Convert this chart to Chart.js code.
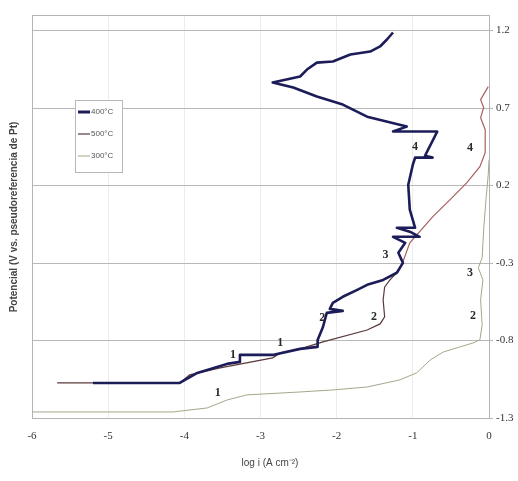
<!DOCTYPE html>
<html lang="es">
<head>
<meta charset="UTF-8" />
<title>Curvas de polarización</title>
<style>
  html, body { margin: 0; padding: 0; background: #ffffff; }
  canvas { display: block; }
</style>
</head>
<body>
<canvas id="polChart" width="518" height="481"></canvas>
<script src="https://cdn.jsdelivr.net/npm/chart.js@4.4.2/dist/chart.umd.min.js"></script>
<script>
// log i (A cm-2) and potential (V vs. Pt) for each temperature run
const logI400 = [-5.20, -4.06, -3.83, -3.44, -3.27, -3.27, -2.84, -2.48, -2.25, -2.25, -2.18, -2.13, -1.92, -2.09, -2.05, -1.92, -1.73, -1.60, -1.39, -1.21, -1.13, -1.19, -1.10, -1.26, -0.91, -1.04, -1.21, -0.97, -1.04, -1.06, -1.00, -0.97, -0.74, -0.84, -0.68, -1.26, -1.08, -1.60, -1.92, -2.26, -2.57, -2.84, -2.48, -2.39, -2.26, -2.05, -1.82, -1.56, -1.43, -1.34, -1.26];
const pot400 = [-1.074, -1.074, -1.009, -0.951, -0.938, -0.893, -0.893, -0.854, -0.841, -0.796, -0.713, -0.622, -0.609, -0.596, -0.557, -0.518, -0.473, -0.441, -0.409, -0.363, -0.299, -0.234, -0.170, -0.131, -0.131, -0.098, -0.073, -0.073, 0.044, 0.205, 0.334, 0.380, 0.380, 0.392, 0.548, 0.548, 0.580, 0.644, 0.722, 0.774, 0.832, 0.864, 0.903, 0.948, 0.993, 1.000, 1.045, 1.064, 1.097, 1.142, 1.187];

const logI500 = [-5.67, -4.06, -3.93, -3.53, -2.84, -2.74, -2.48, -2.18, -1.60, -1.43, -1.37, -1.39, -1.37, -1.30, -1.21, -1.13, -1.04, -0.74, -0.51, -0.29, -0.12, -0.05, -0.05, -0.11, -0.07, -0.11, -0.01];
const pot500 = [-1.074, -1.074, -1.022, -0.977, -0.912, -0.880, -0.854, -0.809, -0.732, -0.693, -0.648, -0.538, -0.454, -0.409, -0.363, -0.292, -0.170, -0.002, 0.109, 0.218, 0.321, 0.412, 0.560, 0.638, 0.703, 0.754, 0.838];

const logI300 = [-5.99, -4.15, -3.70, -3.44, -3.18, -2.48, -2.05, -1.60, -1.17, -0.95, -0.77, -0.60, -0.38, -0.21, -0.12, -0.09, -0.11, -0.08, -0.14, -0.09, -0.07, -0.04, -0.01, 0.00];
const pot300 = [-1.261, -1.261, -1.235, -1.184, -1.151, -1.132, -1.119, -1.100, -1.054, -1.009, -0.925, -0.874, -0.841, -0.816, -0.796, -0.699, -0.538, -0.409, -0.331, -0.266, -0.086, 0.109, 0.270, 0.367];

const seriesNames = ["400°C", "500°C", "300°C"];

// region markers written next to the curves
const markText = ["4", "4", "3", "3", "2", "2", "2", "1", "1", "1"];
const markLogI = [-0.97, -0.25, -1.36, -0.25, -2.19, -1.51, -0.21, -3.36, -2.74, -3.56];
const markPot = [0.452, 0.445, -0.245, -0.361, -0.652, -0.645, -0.639, -0.890, -0.813, -1.135];

const xTicks = [-6, -5, -4, -3, -2, -1, 0];
const yTicks = [-1.3, -0.8, -0.3, 0.2, 0.7, 1.2];

const toPoints = (xs, ys) => xs.map((x, i) => ({ x, y: ys[i] }));

const colour400 = "#1c1c58";
const colour500 = "#5a3a3a";
const colour500High = "#a8605c";
const colour300 = "#a6a68a";

const extras = {
  id: "extras",
  beforeDatasetsDraw(chart) {
    const { ctx, chartArea: a } = chart;
    ctx.save();
    ctx.strokeStyle = "#b4b4b4";
    ctx.lineWidth = 1;
    ctx.strokeRect(a.left + 0.5, a.top + 0.5, a.right - a.left, a.bottom - a.top);
    ctx.restore();
  },
  afterDatasetsDraw(chart) {
    const { ctx, scales } = chart;
    ctx.save();

    // numbered regions
    ctx.fillStyle = "#2a2a2a";
    ctx.font = "bold 12px 'Liberation Serif', serif";
    ctx.textAlign = "center";
    ctx.textBaseline = "middle";
    markText.forEach((t, i) => {
      ctx.fillText(t, scales.x.getPixelForValue(markLogI[i]), scales.y.getPixelForValue(markPot[i]));
    });

    // legend box
    const lx = 75, ly = 100, lw = 47, lh = 72;
    ctx.fillStyle = "#ffffff";
    ctx.fillRect(lx, ly, lw, lh);
    ctx.strokeStyle = "#b8b8b8";
    ctx.lineWidth = 1;
    ctx.strokeRect(lx + 0.5, ly + 0.5, lw, lh);
    const legendColours = [colour400, colour500, colour300];
    const legendWidths = [3, 1.2, 1];
    ctx.font = "8px 'Liberation Sans', sans-serif";
    ctx.textAlign = "left";
    seriesNames.forEach((name, i) => {
      const yy = ly + 12 + i * 22;
      ctx.strokeStyle = legendColours[i];
      ctx.lineWidth = legendWidths[i];
      ctx.beginPath();
      ctx.moveTo(lx + 3, yy);
      ctx.lineTo(lx + 15, yy);
      ctx.stroke();
      ctx.fillStyle = "#555555";
      ctx.fillText(name, lx + 16, yy);
    });

    // axis titles
    ctx.fillStyle = "#444444";
    ctx.font = "bold 10px 'Liberation Sans', sans-serif";
    ctx.textAlign = "center";
    ctx.save();
    ctx.translate(14, 217);
    ctx.rotate(-Math.PI / 2);
    ctx.fillText("Potencial (V vs. pseudoreferencia de Pt)", 0, 0);
    ctx.restore();
    ctx.font = "10px 'Liberation Sans', sans-serif";
    ctx.fillText("log i (A cm\u207B\u00B2)", 270, 463);

    ctx.restore();
  },
};

new Chart(document.getElementById("polChart"), {
  type: "scatter",
  data: {
    datasets: [
      {
        label: seriesNames[0],
        data: toPoints(logI400, pot400),
        showLine: true,
        borderColor: colour400,
        borderWidth: 2.6,
        borderJoinStyle: "round",
        pointRadius: 0,
        order: 1,
      },
      {
        label: seriesNames[1],
        data: toPoints(logI500, pot500),
        showLine: true,
        borderColor: colour500,
        borderWidth: 1.2,
        pointRadius: 0,
        order: 2,
        segment: {
          borderColor: (c) => (c.p0.parsed.y > -0.32 ? colour500High : colour500),
        },
      },
      {
        label: seriesNames[2],
        data: toPoints(logI300, pot300),
        showLine: true,
        borderColor: colour300,
        borderWidth: 1,
        pointRadius: 0,
        order: 3,
      },
    ],
  },
  options: {
    responsive: false,
    animation: false,
    layout: { padding: { left: 32, top: 15, right: 0, bottom: 0 } },
    plugins: {
      legend: { display: false },
      tooltip: { enabled: false },
    },
    scales: {
      x: {
        type: "linear",
        min: -6,
        max: 0,
        afterBuildTicks: (s) => { s.ticks = xTicks.map((v) => ({ value: v })); },
        afterFit: (s) => { s.height = 63; },
        ticks: {
          color: "#333333",
          font: { family: "'Liberation Serif', serif", size: 11 },
          padding: 12,
          maxRotation: 0,
          callback: (v) => String(v),
        },
        grid: { color: "#ececec", drawTicks: false },
        border: { display: false },
      },
      y: {
        type: "linear",
        position: "right",
        min: -1.3,
        max: 1.3,
        afterBuildTicks: (s) => { s.ticks = yTicks.map((v) => ({ value: v })); },
        afterFit: (s) => { s.width = 29; },
        ticks: {
          color: "#333333",
          font: { family: "'Liberation Serif', serif", size: 11 },
          padding: 3,
          callback: (v) => Number(v).toFixed(1),
        },
        grid: { color: "#b8b8b8", tickLength: 4 },
        border: { color: "#b4b4b4" },
      },
    },
  },
  plugins: [extras],
});
</script>
</body>
</html>
